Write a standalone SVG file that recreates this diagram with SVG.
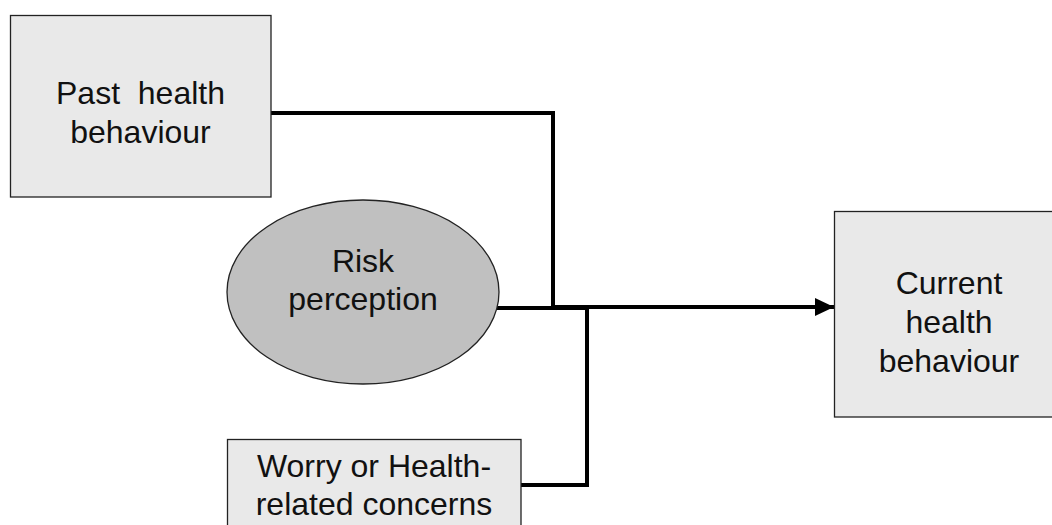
<svg xmlns="http://www.w3.org/2000/svg" width="1052" height="525" viewBox="0 0 1052 525">
<style>
.box{fill:#e9e9e9;stroke:#222;stroke-width:1.3}
.oval{fill:#c0c0c0;stroke:#222;stroke-width:1.3}
.t{font-family:"Liberation Sans",Arial,sans-serif;font-size:32px;fill:#111;text-anchor:middle;white-space:pre}
.c{fill:none;stroke:#000;stroke-width:4}
</style>
<defs>
<marker id="ah" markerUnits="userSpaceOnUse" markerWidth="20" markerHeight="20" refX="19" refY="9" orient="auto">
<path d="M0,0 L19,9 L0,18 Z" fill="#000"/>
</marker>
</defs>
<rect width="1052" height="525" fill="#fff"/>
<g id="connectors">
<path class="c" d="M271,113 H553 V308"/>
<path class="c" d="M497,308 H589"/>
<path class="c" d="M521,485 H587 V306"/>
<path class="c" d="M553,307 H834" marker-end="url(#ah)"/>
</g>
<g id="past">
<rect class="box" x="10.5" y="15.5" width="260.5" height="181.5"/>
<text class="t" x="140.5" y="104" xml:space="preserve">Past  health</text>
<text class="t" x="140.5" y="143">behaviour</text>
</g>
<g id="risk">
<ellipse class="oval" cx="363" cy="292" rx="136" ry="92"/>
<text class="t" x="363" y="272">Risk</text>
<text class="t" x="363" y="310">perception</text>
</g>
<g id="worry">
<rect class="box" x="227.5" y="439.5" width="293.5" height="90"/>
<text class="t" x="374" y="477">Worry or Health-</text>
<text class="t" x="374" y="515">related concerns</text>
</g>
<g id="current">
<rect class="box" x="834.5" y="211.5" width="230" height="205.5"/>
<text class="t" x="949" y="294">Current</text>
<text class="t" x="949" y="333">health</text>
<text class="t" x="949" y="372">behaviour</text>
</g>
</svg>
